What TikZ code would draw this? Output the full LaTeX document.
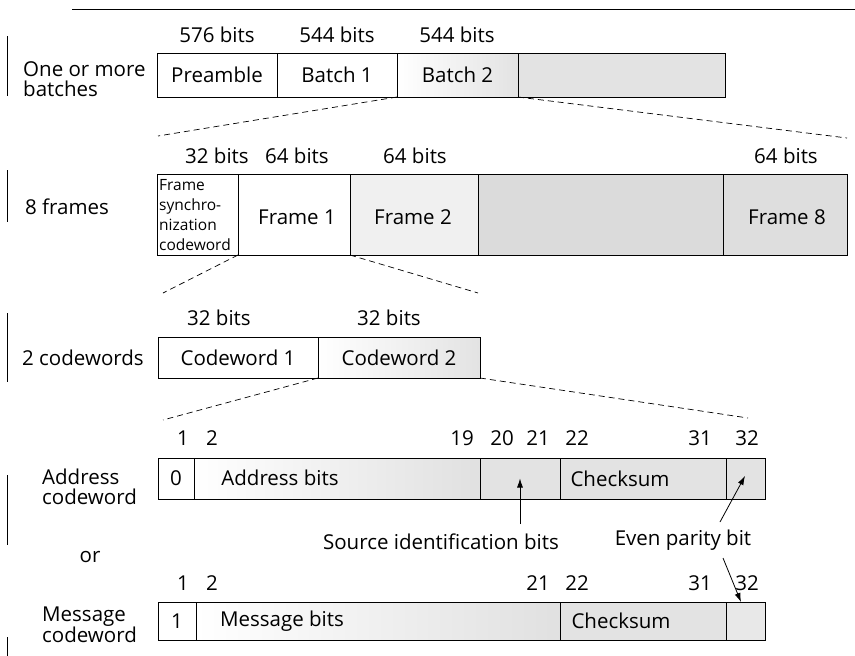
\documentclass[tikz,border=0pt]{standalone}
\usepackage{fontspec}
\setmainfont{Open Sans}
\usetikzlibrary{arrows.meta}
\begin{document}
\begin{tikzpicture}[x=1pt,y=-1pt,
  cell/.style={draw, line width=0.9pt, inner sep=0pt, outer sep=0pt, anchor=north west, font=\fontsize{20.5}{24}\selectfont},
  lbl/.style={font=\fontsize{20.5}{24}\selectfont, inner sep=0pt},
  side/.style={font=\fontsize{20.5}{20.5}\selectfont, inner sep=0pt, align=left, anchor=west},
  small/.style={font=\fontsize{15.5}{20}\selectfont, inner sep=0pt, align=left, anchor=north west},
  zoomline/.style={dash pattern=on 6pt off 4pt, line width=0.7pt},
  bar/.style={line width=0.9pt},
  ptr/.style={-{Latex[length=9pt,width=6pt]}, line width=0.8pt},
  tint/.style={fill=black!11},
  lighttint/.style={fill=black!6},
  fade/.style={left color=white, right color=black!11},
  latefade/.style={left color=white, middle color=white, right color=black!12}]
\useasboundingbox (0,0) rectangle (855,656);

% top rule
\coordinate (r1) at (72,9);
\coordinate (r2) at (855,9);
\draw[line width=0.8pt] (r1) -- (r2);

% side bars
\draw[bar] (7,36) -- (7,96);
\draw[bar] (7,170) -- (7,222);
\draw[bar] (7,313) -- (7,382);
\draw[bar] (7,475) -- (7,545);
\draw[bar] (7,637) -- (7,656);

% ---------- row 1: batches
\node[side] (s1) at (23,79) {One or more\\batches};
\node[lbl] (l11) at (217,35) {576 bits};
\node[lbl] (l12) at (337,35) {544 bits};
\node[lbl] (l13) at (457,35) {544 bits};
\node[cell, minimum width=120pt, minimum height=44pt] (pre) at (157,53) {Preamble};
\node[cell, minimum width=120pt, minimum height=44pt] (b1) at (277,53) {Batch 1};
\node[cell, minimum width=121pt, minimum height=44pt, fade] (b2) at (397,53) {Batch 2};
\node[cell, minimum width=207pt, minimum height=44pt, tint] (rest) at (518,53) {};

\coordinate (z1a) at (158,136);
\coordinate (z1b) at (847,138);
\draw[zoomline] (b2.south west) -- (z1a);
\draw[zoomline] (b2.south east) -- (z1b);

% ---------- row 2: frames
\node[side] (s2) at (25,207) {8 frames};
\node[lbl] (l21) at (217,156) {32 bits};
\node[lbl] (l22) at (297,156) {64 bits};
\node[lbl] (l23) at (415,156) {64 bits};
\node[lbl] (l24) at (786,156) {64 bits};
\node[cell, minimum width=81pt, minimum height=81pt] (sync) at (157,174) {};
\node[small] (synct) at (159,179) {Frame\\synchro-\\nization\\codeword};
\node[cell, minimum width=112pt, minimum height=81pt] (f1) at (238,174) {};
\node[lbl] (f1t) at (297,217) {Frame 1};
\node[cell, minimum width=128pt, minimum height=81pt, lighttint] (f2) at (350,174) {};
\node[lbl] (f2t) at (413,217) {Frame 2};
\node[cell, minimum width=245pt, minimum height=81pt, fill=black!14] (fm) at (478,174) {};
\node[cell, minimum width=124pt, minimum height=81pt, fill=black!13] (f8) at (723,174) {};
\node[lbl] (f8t) at (787,217) {Frame 8};

\coordinate (z2a) at (163,293);
\coordinate (z2b) at (478,293);
\draw[zoomline] (sync.south east) -- (z2a);
\draw[zoomline] (f1.south east) -- (z2b);

% ---------- row 3: codewords
\node[side] (s3) at (22,358) {2 codewords};
\node[lbl] (l31) at (219,318) {32 bits};
\node[lbl] (l32) at (389,318) {32 bits};
\node[cell, minimum width=160pt, minimum height=41pt] (cw1) at (158,337) {Codeword 1};
\node[cell, minimum width=162pt, minimum height=41pt, fade] (cw2) at (318,337) {Codeword 2};

\coordinate (z3a) at (163,420);
\coordinate (z3b) at (748,418);
\draw[zoomline] (cw1.south east) -- (z3a);
\draw[zoomline] (cw2.south east) -- (z3b);

% ---------- row 4: address codeword
\node[side] (s4) at (42,487) {Address\\codeword};
\node[lbl] (n41) at (183,438) {1};
\node[lbl] (n42) at (212,438) {2};
\node[lbl] (n419) at (462,438) {19};
\node[lbl] (n420) at (502,438) {20};
\node[lbl] (n421) at (538,438) {21};
\node[lbl] (n422) at (577,438) {22};
\node[lbl] (n431) at (700,438) {31};
\node[lbl] (n432) at (747,438) {32};
\node[cell, minimum width=36pt, minimum height=41pt] (a0) at (158,458) {0};
\node[cell, minimum width=286pt, minimum height=41pt, latefade] (addr) at (194,458) {};
\node[lbl] (addrt) at (280,478) {Address bits};
\node[cell, minimum width=80pt, minimum height=41pt, tint] (src) at (480,458) {};
\node[cell, minimum width=166pt, minimum height=41pt, tint] (chk) at (560,458) {};
\node[lbl] (chkt) at (620,479) {Checksum};
\node[cell, minimum width=39pt, minimum height=41pt, tint] (par) at (726,458) {};

\node[lbl] (srcl) at (441,542) {Source identification bits};
\node[lbl] (epl) at (683,540) {Even parity bit};
\coordinate (srcs) at (520,524);
\coordinate (eps1) at (720,522);
\coordinate (ept1) at (745,476);
\coordinate (eps2) at (723,558);
\coordinate (ept2) at (741,602);
\draw[ptr] (srcs) -- (src.center);
\draw[ptr] (eps1) -- (ept1);
\draw[ptr] (eps2) -- (ept2);

\node[lbl] (or) at (90,557) {or};

% ---------- row 5: message codeword
\node[side] (s5) at (42,625) {Message\\codeword};
\node[lbl] (n51) at (183,583) {1};
\node[lbl] (n52) at (212,583) {2};
\node[lbl] (n521) at (538,583) {21};
\node[lbl] (n522) at (577,583) {22};
\node[lbl] (n531) at (700,583) {31};
\node[lbl] (n532) at (747,583) {32};
\node[cell, minimum width=38pt, minimum height=38pt] (m1) at (158,602) {1};
\node[cell, minimum width=364pt, minimum height=38pt, latefade] (msg) at (196,602) {};
\node[lbl] (msgt) at (282,621) {Message bits};
\node[cell, minimum width=166pt, minimum height=38pt, tint] (chk2) at (560,602) {};
\node[lbl] (chk2t) at (621,621) {Checksum};
\node[cell, minimum width=39pt, minimum height=38pt, fill=black!9] (par2) at (726,602) {};
\end{tikzpicture}
\end{document}
